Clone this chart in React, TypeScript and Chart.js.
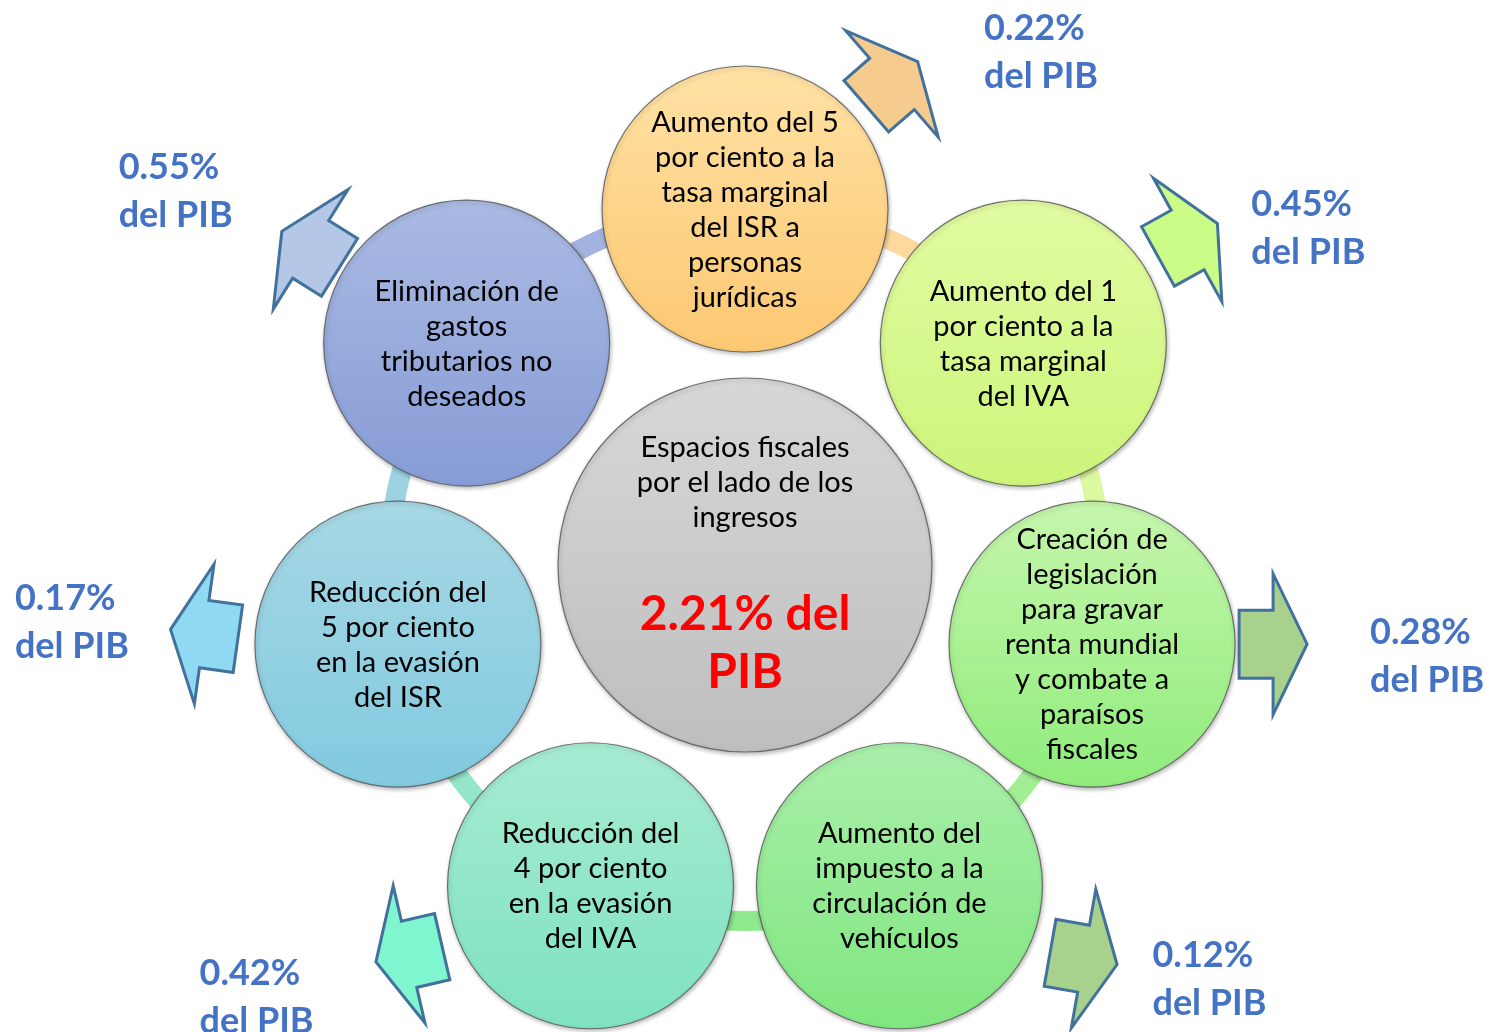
import React, { useEffect, useRef } from "react";
import { Chart, registerables } from "chart.js";

Chart.register(...registerables);

// ---------- DATA ----------
const categories: string[][] = [
  ["Aumento del 5", "por ciento a la", "tasa marginal", "del ISR a", "personas", "jurídicas"],
  ["Aumento del 1", "por ciento a la", "tasa marginal", "del IVA"],
  ["Creación de", "legislación", "para gravar", "renta mundial", "y combate a", "paraísos", "fiscales"],
  ["Aumento del", "impuesto a la", "circulación de", "vehículos"],
  ["Reducción del", "4 por ciento", "en la evasión", "del IVA"],
  ["Reducción del", "5 por ciento", "en la evasión", "del ISR"],
  ["Eliminación de", "gastos", "tributarios no", "deseados"],
];
const values: number[] = [0.22, 0.45, 0.28, 0.12, 0.42, 0.17, 0.55];
const centerTitle: string[] = ["Espacios fiscales", "por el lado de los", "ingresos"];
const totalValue = 2.21;
const unitLabel = "del PIB";

// ---------- STYLE / LAYOUT ----------
const circleTop = ["#FFE1A4", "#E2FBA2", "#C6F6AC", "#A9EFAA", "#A6EBD2", "#A7D8E5", "#AABAE3"];
const circleBottom = ["#FCC872", "#CCF57A", "#8FEC7C", "#80E67F", "#7FE2C2", "#81CADF", "#879CD6"];
const ringColors = ["#FDD9A0", "#DCF8A0", "#A2EE92", "#8FEA8E", "#94E6C9", "#9CD2E2", "#A3B3E0"];
const arrowFills = ["#F6CB8E", "#CCFC88", "#A9D18E", "#A9D18E", "#7FF5D0", "#8FDAF2", "#B4C7E7"];
// arrow base position relative to its circle: polar angle (deg, clockwise from up), distance (px), pointing direction (deg)
const arrowPhi = [49.6, 57.9, 90, 111.6, 249.3, 273, 301];
const arrowDist = [193, 194, 181, 198, 194, 194, 182];
const arrowDir = [49, 61, 90, 100, 257, 278, 302];
// label anchor offset relative to its circle (left x, first baseline)
const labelDX = [239, 228, 278, 253, -391, -383, -348];
const labelDY = [-169, -127, 0, 81, 99, -34, -164];

const FONT = "Lato, 'Open Sans', sans-serif";
const N = categories.length;
const angleOf = (i: number) => (i * 2 * Math.PI) / N;

export default function App() {
  const ref = useRef<HTMLCanvasElement>(null);

  useEffect(() => {
    const canvas = ref.current!;
    const ringData = categories.map((_, i) => ({ x: Math.sin(angleOf(i)), y: Math.cos(angleOf(i)) }));

    const circleRadius = 143;
    const centerRadius = 187;

    const grad = (ctx: any, tops: string[], bottoms: string[], r: number) => {
      const i = ctx.dataIndex ?? 0;
      if (ctx.type !== "data" || !ctx.parsed) return tops[i % tops.length];
      const chart = ctx.chart;
      const cy = chart.scales.y.getPixelForValue(ctx.parsed.y);
      if (!Number.isFinite(cy)) return tops[i % tops.length];
      const g = chart.ctx.createLinearGradient(0, cy - r, 0, cy + r);
      g.addColorStop(0, tops[i % tops.length]);
      g.addColorStop(1, bottoms[i % bottoms.length]);
      return g;
    };

    const diagramPlugin = {
      id: "diagram",
      beforeDatasetsDraw(chart: any) {
        const c = chart.ctx;
        const xs = chart.scales.x;
        const ys = chart.scales.y;
        const cx = xs.getPixelForValue(0);
        const cy = ys.getPixelForValue(0);
        const R = xs.getPixelForValue(1) - cx;
        c.save();
        c.lineWidth = 20;
        c.lineCap = "butt";
        for (let i = 0; i < N; i++) {
          const a0 = angleOf(i) - Math.PI / 2;
          const a1 = angleOf(i + 1) - Math.PI / 2;
          c.beginPath();
          c.strokeStyle = ringColors[i];
          c.arc(cx, cy, R, a0, a1);
          c.stroke();
        }
        c.restore();
      },
      beforeDatasetDraw(chart: any) {
        const c = chart.ctx;
        c.save();
        c.shadowColor = "rgba(0,0,0,0.28)";
        c.shadowBlur = 4;
        c.shadowOffsetX = 1;
        c.shadowOffsetY = 2;
      },
      afterDatasetDraw(chart: any) {
        chart.ctx.restore();
      },
      afterDatasetsDraw(chart: any) {
        const c = chart.ctx;
        const xs = chart.scales.x;
        const ys = chart.scales.y;
        c.save();
        const LH = 35;
        ringData.forEach((p, i) => {
          const px = xs.getPixelForValue(p.x);
          const py = ys.getPixelForValue(p.y);
          const lines = categories[i];
          c.fillStyle = "#000";
          c.textAlign = "center";
          c.textBaseline = "alphabetic";
          c.font = `29px ${FONT}`;
          lines.forEach((ln, k) => {
            c.fillText(ln, px, py + (k - (lines.length - 1) / 2) * LH + 10);
          });

          // arrows
          const phi = (arrowPhi[i] * Math.PI) / 180;
          const bx = px + arrowDist[i] * Math.sin(phi);
          const by = py - arrowDist[i] * Math.cos(phi);
          const d = (arrowDir[i] * Math.PI) / 180;
          const ux = Math.sin(d), uy = -Math.cos(d);
          const vx = -uy, vy = ux;
          const HW = 70.5, HL = 34, SW = 34, SL = 34;
          const pts = [
            [-SL, -SW], [0, -SW], [0, -HW], [HL, 0], [0, HW], [0, SW], [-SL, SW],
          ];
          c.beginPath();
          pts.forEach(([a, q], j) => {
            const X = bx + a * ux + q * vx;
            const Y = by + a * uy + q * vy;
            if (j === 0) c.moveTo(X, Y); else c.lineTo(X, Y);
          });
          c.closePath();
          c.fillStyle = arrowFills[i];
          c.fill();
          c.lineWidth = 3;
          c.lineJoin = "miter";
          c.strokeStyle = "#41719C";
          c.stroke();

          // value labels
          c.fillStyle = "#4472C4";
          c.textAlign = "left";
          c.font = `bold 36px ${FONT}`;
          const lx = px + labelDX[i];
          const ly = py + labelDY[i];
          c.fillText(`${values[i].toFixed(2)}%`, lx, ly);
          c.fillText(unitLabel, lx, ly + 48);
        });

        // center texts
        const cx = xs.getPixelForValue(0);
        const cy = ys.getPixelForValue(0);
        c.fillStyle = "#000";
        c.textAlign = "center";
        c.font = `29px ${FONT}`;
        centerTitle.forEach((ln, k) => c.fillText(ln, cx, cy - 108 + k * 35));
        c.fillStyle = "#FF0000";
        c.font = `bold 48px ${FONT}`;
        c.fillText(`${totalValue.toFixed(2)}% del`, cx, cy + 65);
        c.fillText("PIB", cx, cy + 123);
        c.restore();
      },
    };

    const chart = new Chart(canvas, {
      type: "bubble",
      data: {
        datasets: [
          {
            label: "centro",
            data: [{ x: 0, y: 0 }],
            radius: centerRadius,
            backgroundColor: (ctx: any) => grad(ctx, ["#D7D7D7"], ["#BEBEBE"], centerRadius),
            borderColor: "rgba(90,90,90,0.85)",
            borderWidth: 1.2,
            clip: false,
          },
          {
            label: "medidas",
            data: ringData,
            radius: circleRadius,
            backgroundColor: (ctx: any) => grad(ctx, circleTop, circleBottom, circleRadius),
            borderColor: "rgba(90,90,90,0.85)",
            borderWidth: 1.2,
            clip: false,
          },
        ],
      },
      options: {
        animation: false,
        responsive: false,
        events: [],
        layout: { padding: 0, autoPadding: false },
        plugins: { legend: { display: false }, tooltip: { enabled: false } },
        scales: {
          x: { type: "linear", display: false, min: -745 / 356, max: 740 / 356 },
          y: { type: "linear", display: false, min: -467 / 356, max: 565 / 356 },
        },
      },
      plugins: [diagramPlugin],
    } as any);
    return () => chart.destroy();
  }, []);

  return (
    <div style={{ position: "fixed", left: 0, top: 0, width: 1485, height: 1032, background: "#fff" }}>
      <canvas ref={ref} width={1485} height={1032} style={{ width: 1485, height: 1032, display: "block" }} />
    </div>
  );
}
